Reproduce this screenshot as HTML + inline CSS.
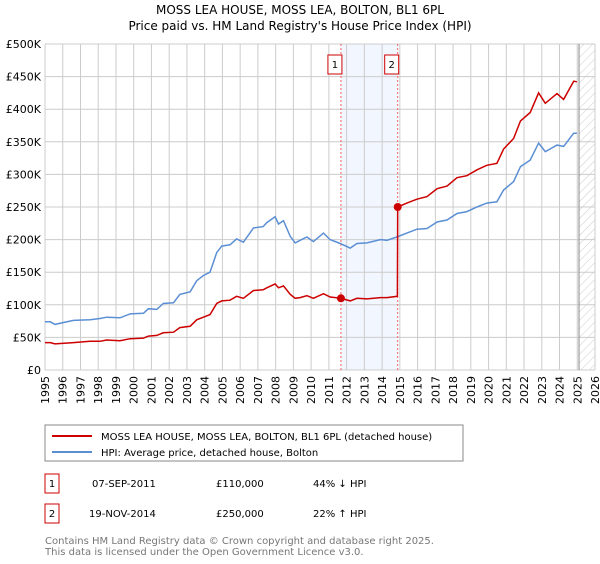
<!DOCTYPE html>
<html><head><meta charset="utf-8"><style>
body{margin:0;background:#fff;font-family:"DejaVu Sans","Liberation Sans",sans-serif;}
svg text{font-family:"DejaVu Sans","Liberation Sans",sans-serif;}
</style></head><body>
<svg id="chart" width="600" height="560" viewBox="0 0 600 560" xmlns="http://www.w3.org/2000/svg">
<defs><pattern id="hatch" width="6" height="6" patternUnits="userSpaceOnUse" patternTransform="rotate(45)"><line x1="0" y1="0" x2="0" y2="6" stroke="#ccc" stroke-width="1"/></pattern></defs>
<text x="300" y="14" text-anchor="middle" font-size="12">MOSS LEA HOUSE, MOSS LEA, BOLTON, BL1 6PL</text>
<text x="300" y="30" text-anchor="middle" font-size="12">Price paid vs. HM Land Registry's House Price Index (HPI)</text>
<g id="plot"></g>
<rect x="45" y="425" width="418" height="36" fill="#fff" stroke="#888"/>
<line x1="52" y1="436" x2="92" y2="436" stroke="#cc0000" stroke-width="2"/>
<text x="101" y="440" font-size="10">MOSS LEA HOUSE, MOSS LEA, BOLTON, BL1 6PL (detached house)</text>
<line x1="52" y1="452" x2="92" y2="452" stroke="#5b8fd4" stroke-width="2"/>
<text x="101" y="456" font-size="10">HPI: Average price, detached house, Bolton</text>
<g font-size="10">
<rect x="45" y="474" width="14" height="19" fill="#fff" stroke="#cc0000"/>
<text x="52" y="487" text-anchor="middle">1</text>
<text x="92" y="487">07-SEP-2011</text>
<text x="216" y="487">£110,000</text>
<text x="313" y="487">44% ↓ HPI</text>
<rect x="45" y="504" width="14" height="19" fill="#fff" stroke="#cc0000"/>
<text x="52" y="517" text-anchor="middle">2</text>
<text x="89" y="517">19-NOV-2014</text>
<text x="216" y="517">£250,000</text>
<text x="313" y="517">22% ↑ HPI</text>
</g>
<text x="45" y="544" font-size="10" fill="#777">Contains HM Land Registry data © Crown copyright and database right 2025.</text>
<text x="45" y="555" font-size="10" fill="#777">This data is licensed under the Open Government Licence v3.0.</text>
</svg>
<script>
const hpiYears=[1995,1995.3,1995.56,1996.6,1997.54,1998.1,1998.48,1999.23,1999.8,2000.55,2000.83,2001.3,2001.67,2002.24,2002.6,2003.18,2003.55,2003.93,2004.3,2004.68,2004.96,2005.43,2005.8,2006.18,2006.75,2007.3,2007.5,2007.97,2008.16,2008.44,2008.82,2009.1,2009.38,2009.76,2010.13,2010.7,2011.07,2011.64,2012.2,2012.58,2013.15,2013.9,2014.27,2014.83,2015.4,2015.96,2016.53,2017.1,2017.66,2018.22,2018.78,2019.35,2019.9,2020.47,2020.85,2021.41,2021.8,2022.35,2022.82,2023.2,2023.86,2024.23,2024.8,2024.98];
const hpiValues=[74,74,70,76,77,79,81,80,86,87,94,93,102,103,116,120,137,145,150,180,190,192,201,196,218,220,226,235,224,229,205,195,199,204,197,210,200,194,187,194,195,200,199,204,210,216,217,227,230,240,243,250,256,258,276,289,312,322,348,335,345,343,363,363];
const paidYears=[1995,1995.3,1995.56,1996.6,1997.54,1998.1,1998.48,1999.23,1999.8,2000.55,2000.83,2001.3,2001.67,2002.24,2002.6,2003.18,2003.55,2003.93,2004.3,2004.68,2004.96,2005.43,2005.8,2006.18,2006.75,2007.3,2007.5,2007.97,2008.16,2008.44,2008.82,2009.1,2009.38,2009.76,2010.13,2010.7,2011.07,2011.68,2012.2,2012.58,2013.15,2013.9,2014.27,2014.86,2014.88,2015.4,2015.96,2016.53,2017.1,2017.66,2018.22,2018.78,2019.35,2019.9,2020.47,2020.85,2021.41,2021.8,2022.35,2022.82,2023.2,2023.86,2024.23,2024.8,2024.98];
const paidValues=[42,42,40,42,44,44,46,45,48,49,52,53,57,58,65,67,77,81,85,102,106,107,113,110,122,123,126,132,126,129,116,110,111,114,110,117,112,110,106,110,109,111,111,113,250,256,262,266,278,282,295,298,307,314,317,339,355,382,395,425,409,424,415,443,442];
const saleYears=[2011.68,2014.88];
const saleValues=[110,250];
const saleLabels=["1","2"];
const yTicks=[0,50,100,150,200,250,300,350,400,450,500];
const yTickLabels=["£0","£50K","£100K","£150K","£200K","£250K","£300K","£350K","£400K","£450K","£500K"];
const xTicks=[1995,1996,1997,1998,1999,2000,2001,2002,2003,2004,2005,2006,2007,2008,2009,2010,2011,2012,2013,2014,2015,2016,2017,2018,2019,2020,2021,2022,2023,2024,2025,2026];

const X0=45,X1=595,Y0=370,Y1=44,ymin=1995,yrs=31;
const xs=y=>X0+(y-ymin)/yrs*(X1-X0);
const ys=v=>Y0-v/500*(Y0-Y1);
const NS="http://www.w3.org/2000/svg";
const g=document.getElementById('plot');
function mk(t,a){const e=document.createElementNS(NS,t);for(const k in a)e.setAttribute(k,a[k]);g.appendChild(e);return e;}
let e;
e=mk('rect',{x:xs(saleYears[0]),y:Y1,width:xs(saleYears[1])-xs(saleYears[0]),height:Y0-Y1,fill:'#f2f6fe'});


e=mk('rect',{x:xs(2025.1),y:Y1,width:X1-xs(2025.1),height:Y0-Y1,fill:'url(#hatch)'});


xTicks.forEach(t=>{e=mk('line',{x1:xs(t),x2:xs(t),y1:Y1,y2:Y0,stroke:'#ccc','stroke-width':1});


e=mk('text',{x:0,y:0,'font-size':11,'text-anchor':'end',transform:`translate(${xs(t)+4},${Y0+6}) rotate(-90)`});e.textContent=t;

});
yTicks.forEach((t,i)=>{e=mk('line',{x1:X0,x2:X1,y1:ys(t),y2:ys(t),stroke:'#ccc','stroke-width':1});


e=mk('text',{x:X0-4,y:ys(t)+4,'font-size':11,'text-anchor':'end'});e.textContent=yTickLabels[i];

});
e=mk('line',{x1:xs(2025.1),x2:xs(2025.1),y1:Y1,y2:Y0,stroke:'#888','stroke-width':1});


saleYears.forEach((s,i)=>{e=mk('line',{x1:xs(s),x2:xs(s),y1:Y1,y2:Y0,stroke:'#f06060','stroke-width':1,'stroke-dasharray':'2,2'});


e=mk('rect',{x:xs(s)-13,y:55,width:14,height:19,fill:'#fff',stroke:'#cc0000'});


e=mk('text',{x:xs(s)-6,y:68,'font-size':10,'text-anchor':'middle'});e.textContent=saleLabels[i];

});
const pts=(xa,va)=>xa.map((x,i)=>xs(x).toFixed(1)+','+ys(va[i]).toFixed(1)).join(' ');
e=mk('polyline',{points:pts(hpiYears,hpiValues),fill:'none',stroke:'#5b8fd4','stroke-width':1.5});


e=mk('polyline',{points:pts(paidYears,paidValues),fill:'none',stroke:'#cc0000','stroke-width':1.5});


saleYears.forEach((s,i)=>{e=mk('circle',{cx:xs(s),cy:ys(saleValues[i]),r:4,fill:'#cc0000'});

});
</script>
</body></html>
